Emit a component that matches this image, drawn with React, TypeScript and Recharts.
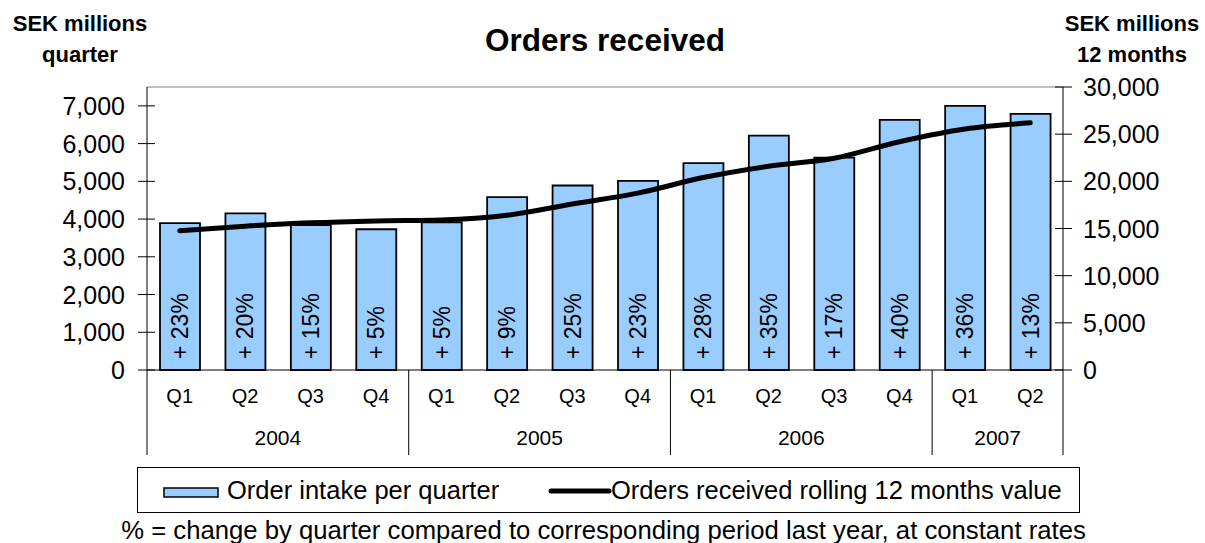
import React from "react";
import {
  ComposedChart,
  Bar,
  Line,
  XAxis,
  YAxis,
  LabelList,
  ReferenceLine,
} from "recharts";

const quarters = ["Q1", "Q2", "Q3", "Q4", "Q1", "Q2", "Q3", "Q4", "Q1", "Q2", "Q3", "Q4", "Q1", "Q2"];
const years = ["2004", "2004", "2004", "2004", "2005", "2005", "2005", "2005", "2006", "2006", "2006", "2006", "2007", "2007"];
const orderIntake = [3890, 4150, 3840, 3730, 3910, 4580, 4890, 5010, 5480, 6210, 5630, 6630, 7000, 6790];
const rolling12 = [14770, 15250, 15600, 15800, 15900, 16400, 17600, 18750, 20400, 21600, 22450, 24200, 25550, 26200];
const growth = [23, 20, 15, 5, 5, 9, 25, 23, 28, 35, 17, 40, 36, 13];
const leftTicks = [0, 1000, 2000, 3000, 4000, 5000, 6000, 7000];
const rightTicks = [0, 5000, 10000, 15000, 20000, 25000, 30000];

const data = quarters.map((q, i) => ({
  period: `${years[i]} ${q}`,
  intake: orderIntake[i],
  rolling: rolling12[i],
  growth: growth[i],
}));

const W = 1205;
const H = 543;
const LEFT_W = 147;
const RIGHT_W = 142;
const TOP = 87;
const X_AXIS_H = 90;
const BOTTOM = 83;
const PLOT_W = W - LEFT_W - RIGHT_W;
const BAND = PLOT_W / quarters.length;
const FONT = '"Liberation Sans", Arial, sans-serif';

const fmt = (v: number) => v.toLocaleString("en-US");

function LeftTick(props: any) {
  const { x, y, payload } = props;
  return (
    <g>
      <line x1={x - 9} x2={x + 8} y1={y} y2={y} stroke="#000" strokeWidth={1} />
      <text x={x - 22} y={y} textAnchor="end" dominantBaseline="central" fontSize={25} fontFamily={FONT} fill="#000">
        {fmt(payload.value)}
      </text>
    </g>
  );
}

function RightTick(props: any) {
  const { x, y, payload } = props;
  return (
    <g>
      <line x1={x - 8} x2={x + 9} y1={y} y2={y} stroke="#000" strokeWidth={1} />
      <text x={x + 20} y={y} textAnchor="start" dominantBaseline="central" fontSize={25} fontFamily={FONT} fill="#000">
        {fmt(payload.value)}
      </text>
    </g>
  );
}

function QuarterTick(props: any) {
  const { x, y, index } = props;
  const year = years[index];
  const first = index === 0 || years[index - 1] !== year;
  const last = index === quarters.length - 1;
  const count = years.filter((yy) => yy === year).length;
  const left = x - BAND / 2;
  return (
    <g>
      <text x={x} y={y + 26} textAnchor="middle" dominantBaseline="central" fontSize={20} fontFamily={FONT} fill="#000">
        {quarters[index]}
      </text>
      {first && (
        <>
          <line x1={left} x2={left} y1={y} y2={y + 85} stroke="#000" strokeWidth={1} />
          <text
            x={left + (count * BAND) / 2}
            y={y + 67}
            textAnchor="middle"
            dominantBaseline="central"
            fontSize={21}
            fontFamily={FONT}
            fill="#000"
          >
            {year}
          </text>
        </>
      )}
      {last && <line x1={x + BAND / 2} x2={x + BAND / 2} y1={y} y2={y + 85} stroke="#000" strokeWidth={1} />}
    </g>
  );
}

function GrowthLabel(props: any) {
  const { x, y, width, height, value } = props;
  const cx = x + width / 2;
  const cy = y + height - 11;
  return (
    <text
      x={cx}
      y={cy}
      transform={`rotate(-90, ${cx}, ${cy})`}
      textAnchor="start"
      dominantBaseline="central"
      fontSize={23}
      fontFamily={FONT}
      fill="#000"
    >
      {`+ ${value}%`}
    </text>
  );
}

const abs = (style: React.CSSProperties): React.CSSProperties => ({
  position: "absolute",
  fontFamily: FONT,
  color: "#000",
  whiteSpace: "nowrap",
  ...style,
});

export default function App() {
  return (
    <div style={{ position: "absolute", left: 0, top: 0, width: W, height: H, background: "#fff" }}>
      <ComposedChart
        width={W}
        height={H}
        data={data}
        margin={{ top: TOP, right: 0, bottom: BOTTOM, left: 0 }}
        barSize={40}
      >
        <XAxis
          dataKey="period"
          height={X_AXIS_H}
          interval={0}
          tickLine={false}
          tickSize={0}
          tickMargin={0}
          tick={<QuarterTick />}
          axisLine={{ stroke: "#000", strokeWidth: 1 }}
        />
        <YAxis
          yAxisId="left"
          orientation="left"
          width={LEFT_W}
          domain={[0, 7500]}
          ticks={leftTicks}
          tickLine={false}
          tickSize={0}
          tickMargin={0}
          tick={<LeftTick />}
          axisLine={{ stroke: "#000", strokeWidth: 1 }}
        />
        <YAxis
          yAxisId="right"
          orientation="right"
          width={RIGHT_W}
          domain={[0, 30000]}
          ticks={rightTicks}
          tickLine={false}
          tickSize={0}
          tickMargin={0}
          tick={<RightTick />}
          axisLine={{ stroke: "#000", strokeWidth: 1 }}
        />
        <ReferenceLine yAxisId="left" y={7500} stroke="#808080" strokeWidth={1} />
        <Bar
          yAxisId="left"
          dataKey="intake"
          name="Order intake per quarter"
          fill="#99CCFF"
          stroke="#000"
          strokeWidth={1.8}
          isAnimationActive={false}
        >
          <LabelList dataKey="growth" content={<GrowthLabel />} />
        </Bar>
        <Line
          yAxisId="right"
          type="monotone"
          dataKey="rolling"
          name="Orders received rolling 12 months value"
          stroke="#000"
          strokeWidth={5}
          strokeLinecap="round"
          dot={false}
          activeDot={false}
          isAnimationActive={false}
        />
      </ComposedChart>

      <div style={abs({ left: 0, width: 160, top: 8, textAlign: "center", fontWeight: "bold", fontSize: 22, lineHeight: "31px" })}>
        SEK millions
        <br />
        quarter
      </div>
      <div style={abs({ left: 1062, width: 140, top: 8, textAlign: "center", fontWeight: "bold", fontSize: 22, lineHeight: "31px" })}>
        SEK millions
        <br />
        12 months
      </div>
      <div style={abs({ left: 0, width: 1210, top: 21, textAlign: "center", fontWeight: "bold", fontSize: 31.5, lineHeight: "38px" })}>
        Orders received
      </div>

      <div
        style={abs({
          left: 137,
          top: 467,
          width: 943,
          height: 46,
          border: "1px solid #000",
          boxSizing: "border-box",
          fontSize: 25.5,
        })}
      >
        <svg style={{ position: "absolute", left: 25, top: 19 }} width={57} height={11}>
          <rect x={1} y={1} width={54} height={9} fill="#99CCFF" stroke="#000" strokeWidth={1.5} />
        </svg>
        <span style={{ position: "absolute", left: 89, top: 7, lineHeight: "30px" }}>Order intake per quarter</span>
        <svg style={{ position: "absolute", left: 410, top: 19 }} width={64} height={8}>
          <line x1={3} x2={61} y1={4} y2={4} stroke="#000" strokeWidth={5} strokeLinecap="round" />
        </svg>
        <span style={{ position: "absolute", left: 473, top: 7, lineHeight: "30px" }}>
          Orders received rolling 12 months value
        </span>
      </div>
      <div style={abs({ left: 0, width: 1207, top: 515, textAlign: "center", fontSize: 25.7, lineHeight: "30px" })}>
        % = change by quarter compared to corresponding period last year, at constant rates
      </div>
    </div>
  );
}
